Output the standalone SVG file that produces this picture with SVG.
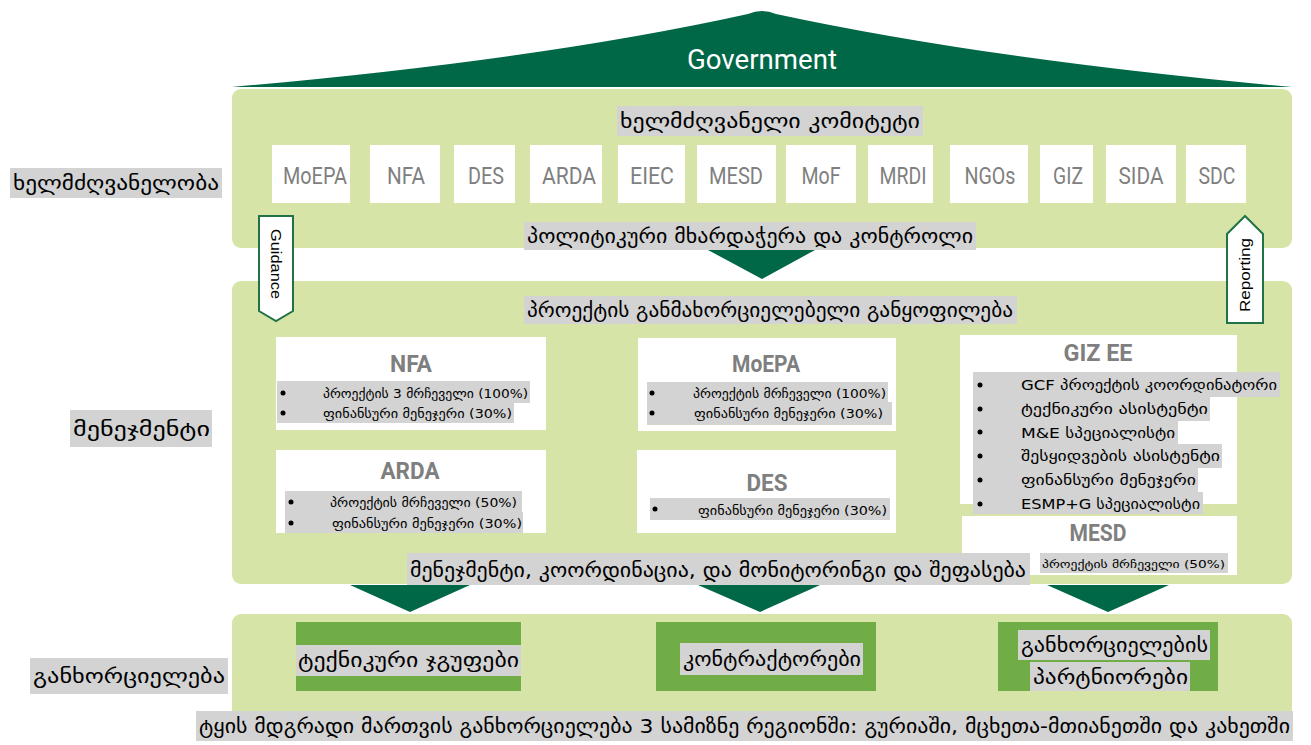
<svg xmlns="http://www.w3.org/2000/svg" width="1311" height="745" viewBox="0 0 1311 745">
<style>
.panel{fill:#D7E4A8}
.dark{fill:#006747}
.wbox{fill:#FFFFFF}
.gbg{fill:#D3D3D3}
.gbox{fill:#70AD47}
.ka{font-family:"DejaVu Sans",sans-serif;fill:#000000}
.lat{font-family:Roboto,"DejaVu Sans",sans-serif;fill:#7F7F7F;text-anchor:middle}
.tag{font-family:"Liberation Sans",Arial,sans-serif;font-size:15px;fill:#000000;text-anchor:middle}
.arr{fill:#FFFFFF;stroke:#217346;stroke-width:2}
</style>
<rect width="1311" height="745" fill="#FFFFFF"/>

<g id="roof">
<path class="dark" d="M232,87 Q540,60 748,14 Q762,8 776,14 Q990,60 1292,87 Z"/>
<text x="762" y="69" font-family="Roboto,sans-serif" font-size="28" fill="#FFFFFF" text-anchor="middle" textLength="150" lengthAdjust="spacingAndGlyphs">Government</text>
</g>

<g id="panel-governance">
<rect class="panel" x="232" y="89" width="1060" height="159" rx="9"/>
<rect class="gbg" x="617" y="106" width="306" height="30"/>
<text class="ka" x="620" y="128" font-size="20" textLength="300" lengthAdjust="spacingAndGlyphs">ხელმძღვანელი კომიტეტი</text>
</g>

<g id="committee">
<g id="c-moepa"><rect class="wbox" x="272" y="145" width="78" height="58"/><text class="lat" x="315" y="184" font-size="24" textLength="64" lengthAdjust="spacingAndGlyphs">MoEPA</text></g>
<g id="c-nfa"><rect class="wbox" x="370" y="145" width="70" height="58"/><text class="lat" x="406" y="184" font-size="24" textLength="38" lengthAdjust="spacingAndGlyphs">NFA</text></g>
<g id="c-des"><rect class="wbox" x="454" y="145" width="61" height="58"/><text class="lat" x="486" y="184" font-size="24" textLength="36" lengthAdjust="spacingAndGlyphs">DES</text></g>
<g id="c-arda"><rect class="wbox" x="530" y="145" width="72" height="58"/><text class="lat" x="569" y="184" font-size="24" textLength="54" lengthAdjust="spacingAndGlyphs">ARDA</text></g>
<g id="c-eiec"><rect class="wbox" x="618" y="145" width="67" height="58"/><text class="lat" x="652" y="184" font-size="24" textLength="44" lengthAdjust="spacingAndGlyphs">EIEC</text></g>
<g id="c-mesd"><rect class="wbox" x="697" y="145" width="79" height="58"/><text class="lat" x="736" y="184" font-size="24" textLength="54" lengthAdjust="spacingAndGlyphs">MESD</text></g>
<g id="c-mof"><rect class="wbox" x="786" y="145" width="70" height="58"/><text class="lat" x="821" y="184" font-size="24" textLength="39" lengthAdjust="spacingAndGlyphs">MoF</text></g>
<g id="c-mrdi"><rect class="wbox" x="868" y="145" width="65" height="58"/><text class="lat" x="903" y="184" font-size="24" textLength="47" lengthAdjust="spacingAndGlyphs">MRDI</text></g>
<g id="c-ngos"><rect class="wbox" x="950" y="145" width="78" height="58"/><text class="lat" x="990" y="184" font-size="24" textLength="51" lengthAdjust="spacingAndGlyphs">NGOs</text></g>
<g id="c-giz"><rect class="wbox" x="1040" y="145" width="53" height="58"/><text class="lat" x="1068" y="184" font-size="24" textLength="30" lengthAdjust="spacingAndGlyphs">GIZ</text></g>
<g id="c-sida"><rect class="wbox" x="1106" y="145" width="70" height="58"/><text class="lat" x="1141" y="184" font-size="24" textLength="45" lengthAdjust="spacingAndGlyphs">SIDA</text></g>
<g id="c-sdc"><rect class="wbox" x="1186" y="145" width="60" height="58"/><text class="lat" x="1217" y="184" font-size="24" textLength="37" lengthAdjust="spacingAndGlyphs">SDC</text></g>
</g>

<g id="policy-label">
<rect class="gbg" x="524" y="222" width="452" height="28"/>
<text class="ka" x="527" y="243" font-size="19" textLength="446" lengthAdjust="spacingAndGlyphs">პოლიტიკური მხარდაჭერა და კონტროლი</text>
</g>

<g id="panel-management">
<rect class="panel" x="232" y="281" width="1060" height="303" rx="9"/>
<rect class="gbg" x="524" y="296" width="493" height="28"/>
<text class="ka" x="527" y="317" font-size="19" textLength="486" lengthAdjust="spacingAndGlyphs">პროექტის განმახორციელებელი განყოფილება</text>
</g>

<g id="m-nfa">
<rect class="wbox" x="276" y="337" width="270" height="93"/>
<text class="lat" x="411" y="372" font-size="24" font-weight="bold" textLength="42" lengthAdjust="spacingAndGlyphs">NFA</text>
<rect class="gbg" x="277" y="381" width="253" height="22"/>
<rect class="gbg" x="277" y="403" width="237" height="20"/>
<circle cx="283" cy="393" r="2.5"/><circle cx="283" cy="413" r="2.5"/>
<text class="ka" x="323" y="398" font-size="12" textLength="205" lengthAdjust="spacingAndGlyphs">პროექტის 3 მრჩეველი (100%)</text>
<text class="ka" x="323" y="418" font-size="12" textLength="189" lengthAdjust="spacingAndGlyphs">ფინანსური მენეჯერი (30%)</text>
</g>

<g id="m-arda">
<rect class="wbox" x="276" y="450" width="270" height="83"/>
<text class="lat" x="410" y="479" font-size="24" font-weight="bold" textLength="59" lengthAdjust="spacingAndGlyphs">ARDA</text>
<rect class="gbg" x="285" y="491" width="237" height="21"/>
<rect class="gbg" x="285" y="512" width="238" height="21"/>
<circle cx="291" cy="502" r="2.5"/><circle cx="291" cy="523" r="2.5"/>
<text class="ka" x="330" y="507" font-size="12" textLength="187" lengthAdjust="spacingAndGlyphs">პროექტის მრჩეველი (50%)</text>
<text class="ka" x="332" y="528" font-size="12" textLength="190" lengthAdjust="spacingAndGlyphs">ფინანსური მენეჯერი (30%)</text>
</g>

<g id="m-moepa">
<rect class="wbox" x="638" y="338" width="258" height="93"/>
<text class="lat" x="766" y="372" font-size="24" font-weight="bold" textLength="68" lengthAdjust="spacingAndGlyphs">MoEPA</text>
<rect class="gbg" x="647" y="382" width="241" height="20"/>
<rect class="gbg" x="647" y="402" width="245" height="23"/>
<circle cx="652" cy="393" r="2.5"/><circle cx="652" cy="413" r="2.5"/>
<text class="ka" x="693" y="398" font-size="12" textLength="193" lengthAdjust="spacingAndGlyphs">პროექტის მრჩეველი (100%)</text>
<text class="ka" x="694" y="418" font-size="12" textLength="189" lengthAdjust="spacingAndGlyphs">ფინანსური მენეჯერი (30%)</text>
</g>

<g id="m-des">
<rect class="wbox" x="637" y="450" width="259" height="83"/>
<text class="lat" x="767" y="491" font-size="24" font-weight="bold" textLength="41" lengthAdjust="spacingAndGlyphs">DES</text>
<rect class="gbg" x="650" y="498" width="240" height="22"/>
<circle cx="655" cy="509" r="2.5"/>
<text class="ka" x="698" y="515" font-size="12" textLength="189" lengthAdjust="spacingAndGlyphs">ფინანსური მენეჯერი (30%)</text>
</g>

<g id="m-giz">
<rect class="wbox" x="960" y="335" width="277" height="169"/>
<text class="lat" x="1098" y="361" font-size="24" font-weight="bold" textLength="69" lengthAdjust="spacingAndGlyphs">GIZ EE</text>
<rect class="gbg" x="973" y="372" width="307" height="25"/>
<rect class="gbg" x="973" y="397" width="237" height="24"/>
<rect class="gbg" x="973" y="421" width="205" height="23"/>
<rect class="gbg" x="973" y="444" width="249" height="24"/>
<rect class="gbg" x="973" y="468" width="225" height="24"/>
<rect class="gbg" x="973" y="492" width="230" height="22"/>
<circle cx="980" cy="385" r="2.5"/><circle cx="980" cy="409" r="2.5"/><circle cx="980" cy="432" r="2.5"/>
<circle cx="980" cy="456" r="2.5"/><circle cx="980" cy="480" r="2.5"/><circle cx="980" cy="504" r="2.5"/>
<text class="ka" x="1021" y="390" font-size="14" textLength="256" lengthAdjust="spacingAndGlyphs">GCF პროექტის კოორდინატორი</text>
<text class="ka" x="1021" y="414" font-size="14" textLength="187" lengthAdjust="spacingAndGlyphs">ტექნიკური ასისტენტი</text>
<text class="ka" x="1021" y="438" font-size="14" textLength="154" lengthAdjust="spacingAndGlyphs">M&amp;E სპეციალისტი</text>
<text class="ka" x="1021" y="461" font-size="14" textLength="199" lengthAdjust="spacingAndGlyphs">შესყიდვების ასისტენტი</text>
<text class="ka" x="1021" y="485" font-size="14" textLength="175" lengthAdjust="spacingAndGlyphs">ფინანსური მენეჯერი</text>
<text class="ka" x="1021" y="509" font-size="14" textLength="179" lengthAdjust="spacingAndGlyphs">ESMP+G სპეციალისტი</text>
</g>

<g id="m-mesd">
<rect class="wbox" x="962" y="516" width="275" height="59"/>
<text class="lat" x="1098" y="541" font-size="24" font-weight="bold" textLength="57" lengthAdjust="spacingAndGlyphs">MESD</text>
<rect class="gbg" x="1040" y="553" width="188" height="20"/>
<text class="ka" x="1042" y="568" font-size="10" textLength="183" lengthAdjust="spacingAndGlyphs">პროექტის მრჩეველი (50%)</text>
</g>

<g id="mgmt-label">
<rect class="gbg" x="407" y="553" width="623" height="32"/>
<text class="ka" x="410" y="577" font-size="19" textLength="616" lengthAdjust="spacingAndGlyphs">მენეჯმენტი, კოორდინაცია, და მონიტორინგი და შეფასება</text>
</g>

<g id="panel-implementation">
<rect class="panel" x="232" y="614" width="1060" height="105" rx="9"/>
</g>

<g id="i-tech">
<rect class="gbox" x="296" y="622" width="225" height="69"/>
<rect class="gbg" x="296" y="645" width="225" height="31"/>
<text class="ka" x="298" y="667" font-size="19" textLength="221" lengthAdjust="spacingAndGlyphs">ტექნიკური ჯგუფები</text>
</g>
<g id="i-contractors">
<rect class="gbox" x="656" y="622" width="220" height="69"/>
<rect class="gbg" x="680" y="643" width="183" height="32"/>
<text class="ka" x="683" y="666" font-size="19" textLength="178" lengthAdjust="spacingAndGlyphs">კონტრაქტორები</text>
</g>
<g id="i-partners">
<rect class="gbox" x="998" y="622" width="220" height="69"/>
<rect class="gbg" x="1018" y="630" width="192" height="30"/>
<text class="ka" x="1021" y="652" font-size="19" textLength="187" lengthAdjust="spacingAndGlyphs">განხორციელების</text>
<rect class="gbg" x="1030" y="662" width="160" height="29"/>
<text class="ka" x="1033" y="684" font-size="19" textLength="155" lengthAdjust="spacingAndGlyphs">პარტნიორები</text>
</g>

<g id="bottom-label">
<rect class="gbg" x="196" y="711" width="1097" height="30"/>
<text class="ka" x="199" y="733" font-size="19" textLength="1091" lengthAdjust="spacingAndGlyphs">ტყის მდგრადი მართვის განხორციელება 3 სამიზნე რეგიონში: გურიაში, მცხეთა-მთიანეთში და კახეთში</text>
</g>

<g id="row-labels">
<rect class="gbg" x="10" y="168" width="212" height="30"/>
<text class="ka" x="13" y="190" font-size="19" textLength="206" lengthAdjust="spacingAndGlyphs">ხელმძღვანელობა</text>
<rect class="gbg" x="70" y="410" width="142" height="37"/>
<text class="ka" x="73" y="436" font-size="19" textLength="137" lengthAdjust="spacingAndGlyphs">მენეჯმენტი</text>
<rect class="gbg" x="30" y="658" width="198" height="36"/>
<text class="ka" x="33" y="683" font-size="19" textLength="192" lengthAdjust="spacingAndGlyphs">განხორციელება</text>
</g>

<g id="connectors">
<polygon class="dark" points="708,250 815,250 762,279"/>
<polygon class="dark" points="350,585 470,585 410,612"/>
<polygon class="dark" points="698,585 820,585 760,612"/>
<polygon class="dark" points="1047,585 1169,585 1108,612"/>
<g id="guidance">
<path class="arr" d="M259,216 L293,216 L293,311 L276,321 L259,311 Z"/>
<text class="tag" transform="translate(276,264) rotate(90)" y="5" textLength="70" lengthAdjust="spacingAndGlyphs">Guidance</text>
</g>
<g id="reporting">
<path class="arr" d="M1227,234 L1245,216 L1263,234 L1263,323 L1227,323 Z"/>
<text class="tag" transform="translate(1245,275) rotate(-90)" y="5" textLength="74" lengthAdjust="spacingAndGlyphs">Reporting</text>
</g>
</g>
</svg>
